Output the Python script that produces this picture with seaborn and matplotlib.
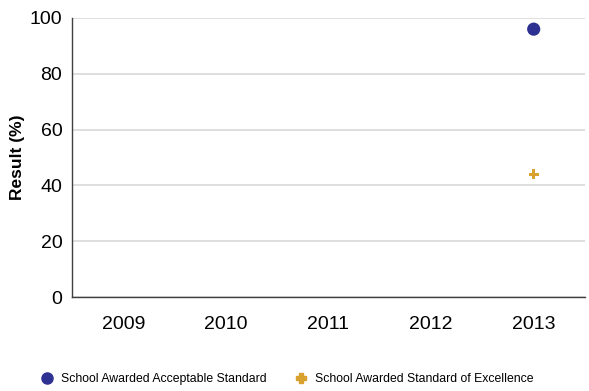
import matplotlib
matplotlib.use("Agg")
import matplotlib.pyplot as plt
import numpy as np
import pandas as pd
import seaborn as sns

years = ["2009", "2010", "2011", "2012", "2013"]
acceptable = [np.nan, np.nan, np.nan, np.nan, 96]
excellence = [np.nan, np.nan, np.nan, np.nan, 44]
series_names = ["School Awarded Acceptable Standard", "School Awarded Standard of Excellence"]

sns.set_style("white")
plt.rcParams["font.family"] = ["Liberation Sans", "DejaVu Sans"]
plt.rcParams["text.color"] = "black"
plt.rcParams["axes.labelcolor"] = "black"
plt.rcParams["xtick.color"] = "black"
plt.rcParams["ytick.color"] = "black"

df = pd.DataFrame({"year": years + years,
                   "value": acceptable + excellence,
                   "series": [series_names[0]] * 5 + [series_names[1]] * 5})

fig = plt.figure(figsize=(5.89, 3.91), dpi=100)
ax = fig.add_axes([72 / 589, 1 - 297 / 391, 513 / 589, 279 / 391])

colors = {series_names[0]: "#2e3192", series_names[1]: "#d9a22e"}
markers = {series_names[0]: "o", series_names[1]: "P"}
sizes = {series_names[0]: 90, series_names[1]: 50}

for name in series_names:
    sub = df[df["series"] == name]
    xs = [years.index(y) for y in sub["year"]]
    sns.scatterplot(x=xs, y=sub["value"].values, ax=ax, color=colors[name],
                    marker=markers[name], s=sizes[name], edgecolor="none",
                    legend=False, zorder=3)

ax.set_xlim(-0.5, 4.5)
ax.set_ylim(0, 100)
ax.set_xticks(range(len(years)))
ax.set_xticklabels(years)
ax.set_yticks(range(0, 101, 20))
ax.tick_params(axis="both", labelsize=14, length=0, labelcolor="black")
ax.tick_params(axis="x", pad=14)
ax.tick_params(axis="y", pad=7)
ax.grid(axis="y", color="#d9d9d9", linewidth=1.2)
ax.set_axisbelow(True)
for side in ["top", "right"]:
    ax.spines[side].set_visible(False)
for side in ["left", "bottom"]:
    ax.spines[side].set_color("#404040")
    ax.spines[side].set_linewidth(1.0)
ax.set_ylabel("Result (%)", fontsize=12.5, fontweight="bold", labelpad=3, color="black")
ax.set_xlabel("")

# marker-only handles, like the original legend
handles = [
    plt.Line2D([], [], color=colors[series_names[0]], marker="o", markersize=8, linestyle="none"),
    plt.Line2D([], [], color=colors[series_names[1]], marker="P", markersize=7, linestyle="none"),
]
fig.legend(handles, series_names, loc="center", bbox_to_anchor=(0.488, 1 - 379 / 391),
           ncol=2, frameon=False, fontsize=8.8, handlelength=0.9, handletextpad=0.7,
           columnspacing=2.3)

fig.savefig("out.png", dpi=100)
